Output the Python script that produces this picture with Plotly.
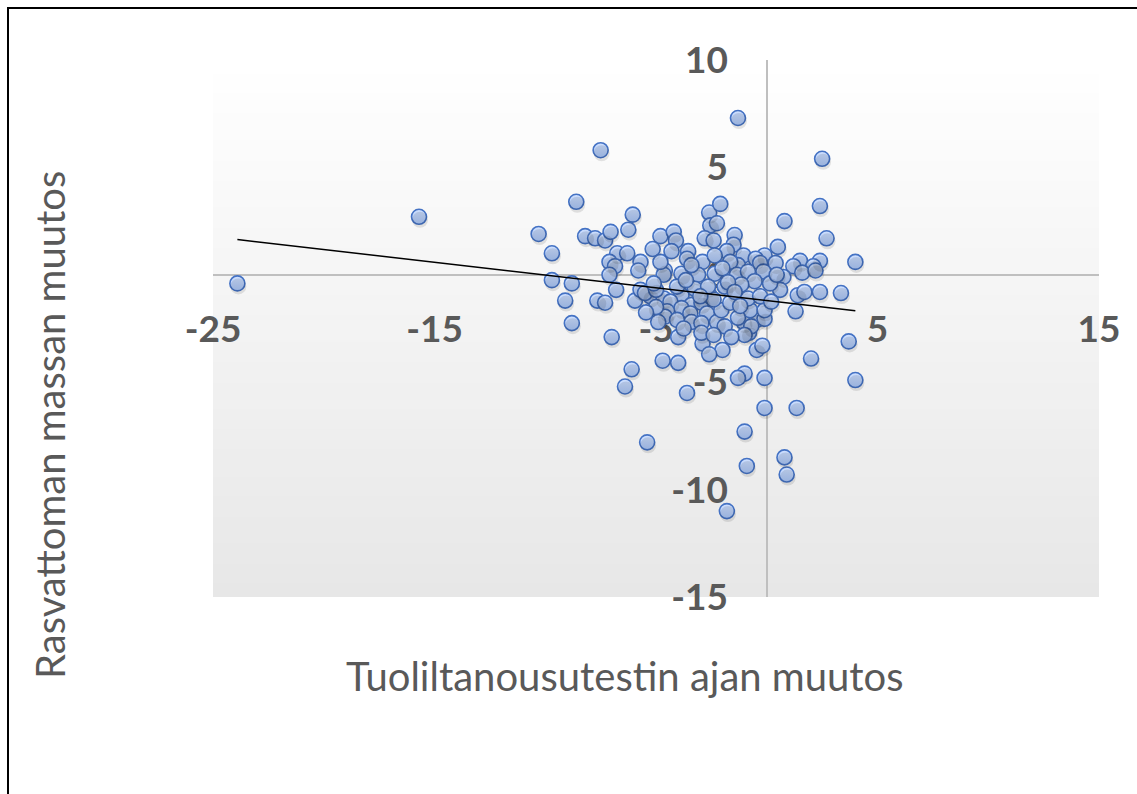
import numpy as np
import plotly.graph_objects as go

# Change in chair-rise test time (x) and change in lean mass (y)
chair_rise_change = [
    -23.9, -15.7, -8.6, -7.5, -1.3, 2.5, 2.4, 2.7, 4.0, 3.7, 4.0, 1.35, 0.8, 0.9,
    -0.9, -1.0, -1.8, -5.4, -0.1, -0.1, -1.0, -1.3, -3.6, -6.4, -6.1, -4.7, -4.0,
    2.0, -7.0, -4.0, -2.9, -2.0, -2.6, -0.45, -0.2, -0.8,
    0.8, 0.5, 1.5, 2.4, 2.1, 1.2, 1.6, 2.2, 0.75, 0.6, 1.4, 1.7, 2.4, 3.35, 1.3,
    -6.05, -10.3, -8.2, -7.75, -7.3, -7.05, -6.25, -9.7, -6.75, -6.3, -7.1, -6.85,
    -7.1, -5.7, -5.8, -9.7, -8.8, -6.8, -9.1, -7.65, -7.3, -5.95, -8.8, -5.7,
    -4.8, -4.2, -4.1, -5.15, -4.3, -2.6, -2.55, -2.8, -3.55, -3.6, -2.9, -4.6,
    -2.1, -2.25, -1.45, -2.4, -1.5, -1.8, -2.35, -1.05, -0.1, -0.5, 0.4, -0.3,
    -1.3, -1.65,
    -4.65, -3.85, -3.1, -5.25, -4.65, -5.5, -3.85, -4.35, -3.4, -3.85, -2.95,
    -4.5, -4.6, -3.45, -2.7, -4.05, -3.4, -2.95, -3.75, -2.95, -5.0, -4.05, -3.25,
    -4.9, -2.25, -1.05, -0.45, -0.1, -2.05, -1.65, -0.75, -0.1, -5.0,
    -1.35, -0.85, -0.15, -0.55, 0.15, 0.45, -1.15, -1.9, -2.35, -2.55, -0.85,
    -0.3, 0.2, -1.3, -1.9, -0.7, -1.0, -1.6, -2.4,
    -3.4, -2.0, -1.75, -1.45, -2.4, -1.2, -3.65, -2.65, -5.1, -4.8, -5.45, -3.0,
]
lean_mass_change = [
    -0.4, 2.7, 3.4, 5.8, 7.3, 5.4, 3.2, 1.7, 0.6, -3.1, -4.9, -6.2, -8.5, -9.3,
    -8.9, -7.3, -11.0, -7.8, -6.2, -4.8, -4.6, -4.8, -5.5, -5.2, -4.4, -4.0, -4.1,
    -3.9, -2.9, -2.9, -3.2, -3.5, -3.7, -3.5, -3.3, -2.7,
    2.5, 1.3, 0.65, 0.65, 0.4, 0.4, 0.1, 0.2, -0.1, -0.7, -0.95, -0.8, -0.8, -0.85, -1.7,
    2.8, 1.9, 1.8, 1.7, 1.6, 2.0, 2.1, 1.0, 1.0, 1.0, 0.6, 0.4,
    0.0, 0.6, 0.2, -0.25, -0.4, -0.7, -1.2, -1.2, -1.3, -1.2, -2.25, -0.7,
    1.8, 2.0, 1.6, 1.2, 1.1, 2.9, 2.3, 1.7, 1.1, 0.75, 0.6, 0.2,
    3.3, 2.4, 1.85, 1.6, 1.4, 1.1, 0.9, 0.9, 0.9, 0.75, 0.55, 0.55,
    0.45, 0.6,
    0.0, 0.05, 0.0, -1.0, -1.1, -0.85, -0.95, -1.25, -1.4, -1.55, -1.3,
    -1.7, -1.95, -1.8, -1.8, -2.1, -2.2, -2.25, -2.5, -2.7, -0.7, -0.55, -0.65,
    -2.2, -2.2, -2.2, -2.1, -2.05, -1.65, -1.3, -1.65, -1.65, -1.5,
    0.0, 0.15, 0.15, -0.3, -0.4, 0.0, -0.45, -0.55, 0.05, -1.0, -1.1,
    -1.0, -1.25, -2.0, -2.4, -2.4, -2.8, -2.9, -2.8,
    0.45, 0.3, -0.35, -0.8, -1.15, -1.45, -0.25, -0.55, -0.4, 0.6, -1.75, -1.0,
]

x_tick_vals = [-25, -15, -5, 5, 15]
x_tick_text = ["-25", "-15", "-5", "5", "15"]
y_tick_vals = [-15, -10, -5, 0, 5, 10]
y_tick_text = ["-15", "-10", "-5", "0", "5", "10"]

x_title = "Tuoliltanousutestin ajan muutos"
y_title = "Rasvattoman massan muutos"

X_RANGE = [-25, 15]
Y_RANGE = [-15, 10]

W, H = 1137, 794
M_L, M_R, M_T, M_B = 213, 38, 60, 197
plot_w = W - M_L - M_R
plot_h = H - M_T - M_B

TEXT_GREY = "#595959"
FONT = "Lato"

x = np.array(chair_rise_change)
y = np.array(lean_mass_change)

# Least-squares linear trend across the observed x span
slope, intercept = np.polyfit(x, y, 1)
trend_x = np.array([x.min(), x.max()])
trend_y = slope * trend_x + intercept

# Soft drop shadow: same points on overlaid axes nudged a few pixels
shadow_dx_px, shadow_dy_px = 1.0, 3.0
ux = (X_RANGE[1] - X_RANGE[0]) / plot_w
uy = (Y_RANGE[1] - Y_RANGE[0]) / plot_h

fig = go.Figure()

fig.add_trace(go.Scatter(
    x=x, y=y, mode="markers", xaxis="x2", yaxis="y2",
    marker=dict(size=16, color="rgba(0,0,0,0.10)", line=dict(width=0)),
    hoverinfo="skip", showlegend=False,
))

fig.add_trace(go.Scatter(
    x=x, y=y, mode="markers",
    marker=dict(
        size=15,
        color="#cfe0fe",
        gradient=dict(type="vertical", color="#aac6f8"),
        opacity=1,
        line=dict(color="#4472c4", width=1.6),
    ),
    showlegend=False,
))

fig.add_trace(go.Scatter(
    x=trend_x, y=trend_y, mode="lines",
    line=dict(color="black", width=1.5),
    hoverinfo="skip", showlegend=False,
))

# Vertical white-to-grey gradient behind the plot area
shapes = []
n_bands = 80
top_rgb = np.array([255, 255, 255])
bot_rgb = np.array([231, 231, 231])
for i in range(n_bands):
    t = (i + 0.5) / n_bands
    c = (bot_rgb + (top_rgb - bot_rgb) * t).round().astype(int)
    shapes.append(dict(
        type="rect", xref="paper", yref="paper",
        x0=0, x1=1, y0=i / n_bands, y1=(i + 1) / n_bands + 0.002,
        fillcolor=f"rgb({c[0]},{c[1]},{c[2]})", line=dict(width=0), layer="below",
    ))

# Outer chart frame (top and left edges fall inside the page)
shapes.append(dict(
    type="rect", xref="paper", yref="paper",
    x0=(8 - M_L) / plot_w, x1=(W + 20 - M_L) / plot_w,
    y0=-(H + 20 - M_T - plot_h) / plot_h, y1=(H - M_B - 8) / plot_h,
    line=dict(color="black", width=2), fillcolor="rgba(0,0,0,0)", layer="above",
))

tick_font = dict(family=FONT, size=37, color=TEXT_GREY, weight=700)

fig.update_layout(
    width=W, height=H,
    margin=dict(l=M_L, r=M_R, t=M_T, b=M_B),
    paper_bgcolor="white",
    plot_bgcolor="white",
    shapes=shapes,
    xaxis=dict(
        range=X_RANGE, tickvals=x_tick_vals, ticktext=x_tick_text,
        showgrid=False, showline=False, ticks="",
        zeroline=True, zerolinecolor="#bfbfbf", zerolinewidth=1.5,
        anchor="free", position=(H - M_B - 304) / plot_h,
        tickfont=tick_font, layer="below traces", fixedrange=True,
    ),
    yaxis=dict(
        range=Y_RANGE, tickvals=y_tick_vals, ticktext=y_tick_text,
        showgrid=False, showline=False, ticks="",
        zeroline=True, zerolinecolor="#bfbfbf", zerolinewidth=1.5,
        anchor="free", position=(728 - M_L) / plot_w,
        tickfont=tick_font, layer="below traces", fixedrange=True,
    ),
    xaxis2=dict(
        range=[X_RANGE[0] - shadow_dx_px * ux, X_RANGE[1] - shadow_dx_px * ux],
        overlaying="x", visible=False, fixedrange=True,
    ),
    yaxis2=dict(
        range=[Y_RANGE[0] + shadow_dy_px * uy, Y_RANGE[1] + shadow_dy_px * uy],
        overlaying="y", visible=False, fixedrange=True,
    ),
    annotations=[
        dict(
            text=x_title, xref="paper", yref="paper",
            x=(625 - M_L) / plot_w, y=(H - M_B - 676) / plot_h,
            showarrow=False, xanchor="center", yanchor="middle",
            font=dict(family=FONT, size=40, color=TEXT_GREY),
        ),
        dict(
            text=y_title, xref="paper", yref="paper",
            x=(50 - M_L) / plot_w, y=(H - M_B - 425) / plot_h,
            showarrow=False, xanchor="center", yanchor="middle", textangle=-90,
            font=dict(family=FONT, size=40, color=TEXT_GREY),
        ),
    ],
)

fig.write_html("out.html")
